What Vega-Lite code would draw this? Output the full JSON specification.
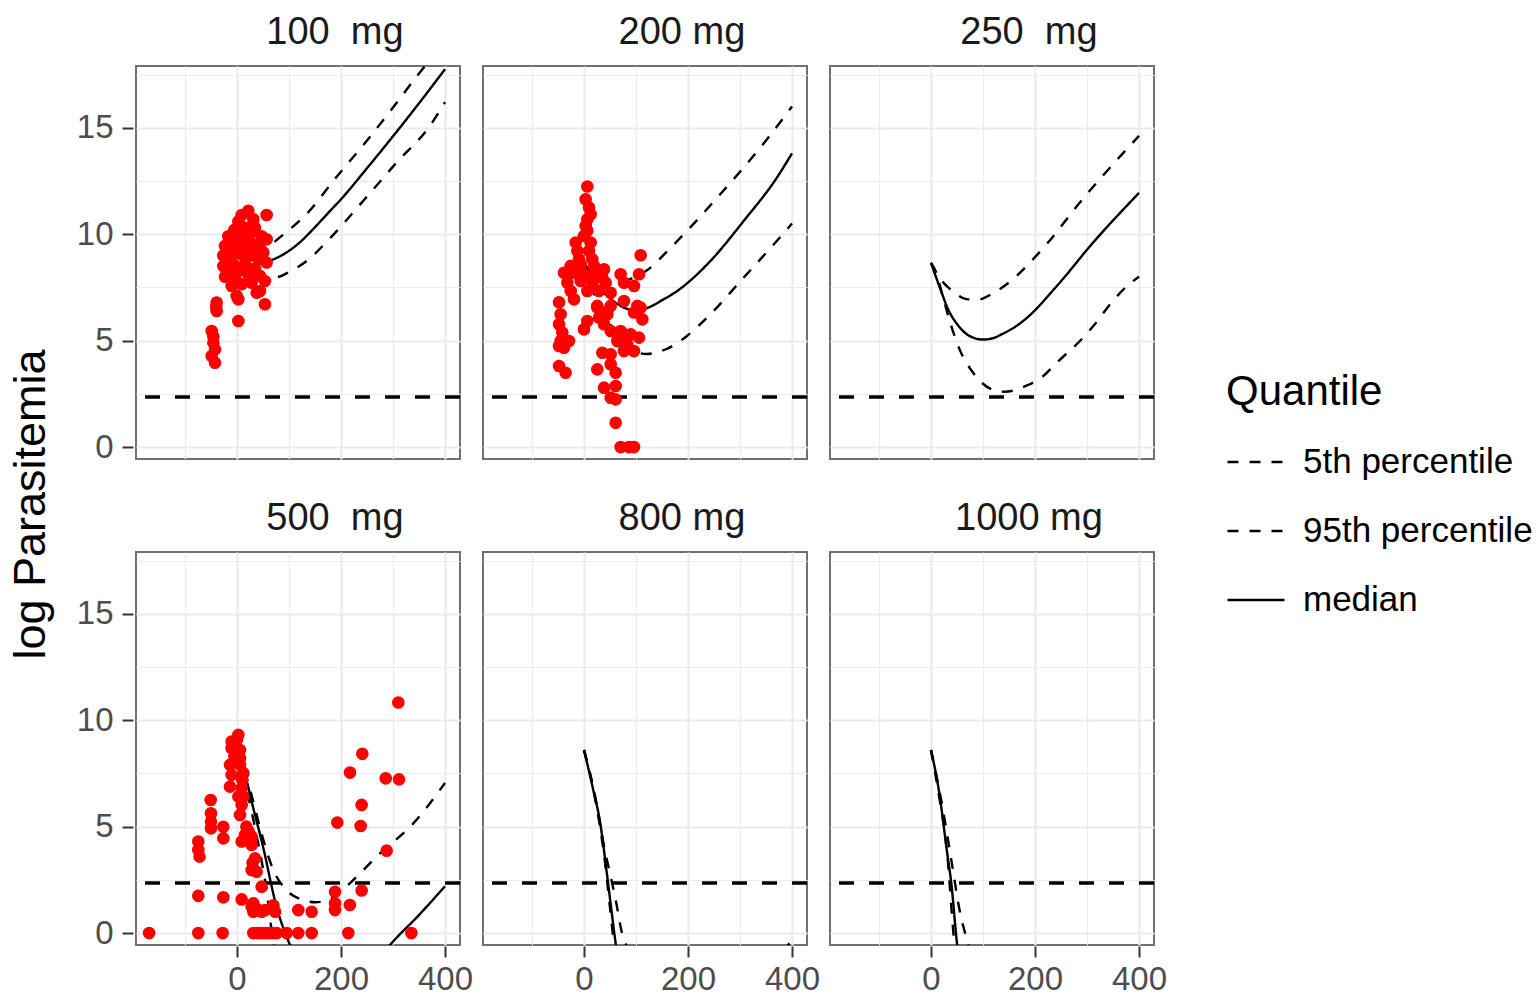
{
  "$schema": "https://vega.github.io/schema/vega-lite/v6.json",
  "background": "white",
  "padding": {"left": 9, "top": 13, "right": 5, "bottom": 5},
  "config": {
    "font": "Liberation Sans",
    "view": {"stroke": "#707070", "strokeWidth": 2},
    "axis": {
      "domain": false,
      "gridColor": "#EBEBEB",
      "tickColor": "#333333",
      "tickSize": 11,
      "tickWidth": 2,
      "labelFontSize": 33,
      "labelColor": "#4D4D4D",
      "labelPadding": 6,
      "labelFlush": false,
      "labelOverlap": false,
      "labelBound": false
    },
    "axisY": {"labelPadding": 9},
    "legend": {
      "titleFontSize": 42,
      "titleFontWeight": "normal",
      "titleColor": "#000000",
      "titlePadding": 18,
      "labelFontSize": 35,
      "labelColor": "#000000",
      "labelOffset": 17,
      "labelLimit": 0,
      "symbolType": "stroke",
      "symbolSize": 3249,
      "symbolStrokeWidth": 2.5,
      "symbolStrokeColor": "#000000",
      "rowPadding": 21
    }
  },
  "title": {"text": "log Parasitemia", "orient": "left", "anchor": "middle", "fontSize": 45, "fontWeight": "normal", "color": "#000000", "offset": 22},
  "data": {"values": [
    {"dose":100,"kind":"lloq","value":2.35},
    {"dose":200,"kind":"lloq","value":2.35},
    {"dose":250,"kind":"lloq","value":2.35},
    {"dose":500,"kind":"lloq","value":2.35},
    {"dose":800,"kind":"lloq","value":2.35},
    {"dose":1000,"kind":"lloq","value":2.35},

    {"dose":100,"kind":"obs","time":21.8,"value":11.1},
    {"dose":100,"kind":"obs","time":9,"value":10.9},
    {"dose":100,"kind":"obs","time":2.6,"value":10.6},
    {"dose":100,"kind":"obs","time":31.4,"value":10.7},
    {"dose":100,"kind":"obs","time":57,"value":10.9},
    {"dose":100,"kind":"obs","time":15.4,"value":10.3},
    {"dose":100,"kind":"obs","time":34.6,"value":10.3},
    {"dose":100,"kind":"obs","time":-16.7,"value":9.9},
    {"dose":100,"kind":"obs","time":2.6,"value":9.9},
    {"dose":100,"kind":"obs","time":25,"value":10.0},
    {"dose":100,"kind":"obs","time":47.4,"value":9.9},
    {"dose":100,"kind":"obs","time":-23.1,"value":9.45},
    {"dose":100,"kind":"obs","time":-3.8,"value":9.45},
    {"dose":100,"kind":"obs","time":15.4,"value":9.45},
    {"dose":100,"kind":"obs","time":37.8,"value":9.5},
    {"dose":100,"kind":"obs","time":57,"value":9.76},
    {"dose":100,"kind":"obs","time":-26.3,"value":9.0},
    {"dose":100,"kind":"obs","time":-10.3,"value":9.0},
    {"dose":100,"kind":"obs","time":9,"value":9.06},
    {"dose":100,"kind":"obs","time":28.2,"value":9.0},
    {"dose":100,"kind":"obs","time":50.6,"value":9.14},
    {"dose":100,"kind":"obs","time":-26.3,"value":8.5},
    {"dose":100,"kind":"obs","time":-7.1,"value":8.6},
    {"dose":100,"kind":"obs","time":15.4,"value":8.6},
    {"dose":100,"kind":"obs","time":34.6,"value":8.4},
    {"dose":100,"kind":"obs","time":57,"value":8.67},
    {"dose":100,"kind":"obs","time":-23.1,"value":8.0},
    {"dose":100,"kind":"obs","time":-3.8,"value":7.96},
    {"dose":100,"kind":"obs","time":21.8,"value":8.1},
    {"dose":100,"kind":"obs","time":44.2,"value":8.04},
    {"dose":100,"kind":"obs","time":53.8,"value":7.8},
    {"dose":100,"kind":"obs","time":-10.3,"value":7.57},
    {"dose":100,"kind":"obs","time":9,"value":7.65},
    {"dose":100,"kind":"obs","time":28.2,"value":7.72},
    {"dose":100,"kind":"obs","time":-0.6,"value":7.1},
    {"dose":100,"kind":"obs","time":37.8,"value":7.25},
    {"dose":100,"kind":"obs","time":44.2,"value":7.33},
    {"dose":100,"kind":"obs","time":53.8,"value":6.71},
    {"dose":100,"kind":"obs","time":-39.1,"value":6.79},
    {"dose":100,"kind":"obs","time":-39.1,"value":6.39},
    {"dose":100,"kind":"obs","time":2.6,"value":5.92},
    {"dose":100,"kind":"obs","time":-48.7,"value":5.45},
    {"dose":100,"kind":"obs","time":-45.5,"value":4.9},
    {"dose":100,"kind":"obs","time":-42.3,"value":4.59},
    {"dose":100,"kind":"obs","time":-48.7,"value":4.28},
    {"dose":100,"kind":"obs","time":-42.3,"value":3.96},
    {"dose":100,"kind":"obs","time":2.6,"value":6.94},
    {"dose":100,"kind":"obs","time":-45.5,"value":5.2},
    {"dose":100,"kind":"obs","time":-40,"value":6.6},
    {"dose":100,"kind":"obs","time":40,"value":8.9},
    {"dose":100,"kind":"obs","time":20,"value":9.8},
    {"dose":100,"kind":"obs","time":5,"value":8.3},
    {"dose":100,"kind":"obs","time":-15,"value":8.2},
    {"dose":100,"kind":"obs","time":30,"value":9.4},
    {"dose":100,"kind":"obs","time":-20,"value":8.8},
    {"dose":100,"kind":"obs","time":45,"value":9.3},
    {"dose":100,"kind":"obs","time":12,"value":10.1},
    {"dose":100,"kind":"obs","time":-5,"value":10.2},

    {"dose":200,"kind":"obs","time":6.4,"value":12.24},
    {"dose":200,"kind":"obs","time":3.2,"value":11.64},
    {"dose":200,"kind":"obs","time":9.6,"value":11.25},
    {"dose":200,"kind":"obs","time":12.8,"value":10.94},
    {"dose":200,"kind":"obs","time":6.4,"value":10.7},
    {"dose":200,"kind":"obs","time":3.2,"value":10.39},
    {"dose":200,"kind":"obs","time":6.4,"value":10.16},
    {"dose":200,"kind":"obs","time":0,"value":9.92},
    {"dose":200,"kind":"obs","time":-16,"value":9.61},
    {"dose":200,"kind":"obs","time":12.8,"value":9.61},
    {"dose":200,"kind":"obs","time":-12.8,"value":9.21},
    {"dose":200,"kind":"obs","time":9.6,"value":9.21},
    {"dose":200,"kind":"obs","time":-9.6,"value":8.82},
    {"dose":200,"kind":"obs","time":16,"value":8.82},
    {"dose":200,"kind":"obs","time":-25.6,"value":8.51},
    {"dose":200,"kind":"obs","time":-6.4,"value":8.59},
    {"dose":200,"kind":"obs","time":19.2,"value":8.51},
    {"dose":200,"kind":"obs","time":38.5,"value":8.35},
    {"dose":200,"kind":"obs","time":-38.5,"value":8.19},
    {"dose":200,"kind":"obs","time":-19.2,"value":8.19},
    {"dose":200,"kind":"obs","time":0,"value":8.12},
    {"dose":200,"kind":"obs","time":19.2,"value":8.04},
    {"dose":200,"kind":"obs","time":35.3,"value":7.96},
    {"dose":200,"kind":"obs","time":109,"value":9.01},
    {"dose":200,"kind":"obs","time":70.5,"value":8.12},
    {"dose":200,"kind":"obs","time":105.8,"value":8.12},
    {"dose":200,"kind":"obs","time":-32,"value":7.72},
    {"dose":200,"kind":"obs","time":-6.4,"value":7.8},
    {"dose":200,"kind":"obs","time":16,"value":7.72},
    {"dose":200,"kind":"obs","time":41.7,"value":7.72},
    {"dose":200,"kind":"obs","time":76.9,"value":7.72},
    {"dose":200,"kind":"obs","time":96.2,"value":7.57},
    {"dose":200,"kind":"obs","time":-25.6,"value":7.33},
    {"dose":200,"kind":"obs","time":6.4,"value":7.33},
    {"dose":200,"kind":"obs","time":28.8,"value":7.33},
    {"dose":200,"kind":"obs","time":51.3,"value":7.25},
    {"dose":200,"kind":"obs","time":-48,"value":6.8},
    {"dose":200,"kind":"obs","time":-19.2,"value":6.94},
    {"dose":200,"kind":"obs","time":25.6,"value":6.63},
    {"dose":200,"kind":"obs","time":51.3,"value":6.63},
    {"dose":200,"kind":"obs","time":76.9,"value":6.86},
    {"dose":200,"kind":"obs","time":102.6,"value":6.63},
    {"dose":200,"kind":"obs","time":38.5,"value":6.32},
    {"dose":200,"kind":"obs","time":-44.9,"value":6.24},
    {"dose":200,"kind":"obs","time":-48,"value":5.77},
    {"dose":200,"kind":"obs","time":-41.7,"value":5.38},
    {"dose":200,"kind":"obs","time":-44.9,"value":4.98},
    {"dose":200,"kind":"obs","time":-28.8,"value":4.98},
    {"dose":200,"kind":"obs","time":-48,"value":4.75},
    {"dose":200,"kind":"obs","time":-38.5,"value":4.67},
    {"dose":200,"kind":"obs","time":6.4,"value":5.92},
    {"dose":200,"kind":"obs","time":0,"value":5.53},
    {"dose":200,"kind":"obs","time":25.6,"value":6.55},
    {"dose":200,"kind":"obs","time":28.8,"value":6.08},
    {"dose":200,"kind":"obs","time":44.9,"value":6.24},
    {"dose":200,"kind":"obs","time":38.5,"value":5.77},
    {"dose":200,"kind":"obs","time":51.3,"value":5.45},
    {"dose":200,"kind":"obs","time":70.5,"value":5.45},
    {"dose":200,"kind":"obs","time":96.2,"value":6.32},
    {"dose":200,"kind":"obs","time":109,"value":6.55},
    {"dose":200,"kind":"obs","time":112.2,"value":6.0},
    {"dose":200,"kind":"obs","time":76.9,"value":5.3},
    {"dose":200,"kind":"obs","time":89.7,"value":5.3},
    {"dose":200,"kind":"obs","time":105.8,"value":5.14},
    {"dose":200,"kind":"obs","time":64.1,"value":4.98},
    {"dose":200,"kind":"obs","time":83.3,"value":4.83},
    {"dose":200,"kind":"obs","time":35.3,"value":4.43},
    {"dose":200,"kind":"obs","time":51.3,"value":4.36},
    {"dose":200,"kind":"obs","time":76.9,"value":4.51},
    {"dose":200,"kind":"obs","time":96.2,"value":4.51},
    {"dose":200,"kind":"obs","time":51.3,"value":3.89},
    {"dose":200,"kind":"obs","time":60.9,"value":3.49},
    {"dose":200,"kind":"obs","time":-48,"value":3.81},
    {"dose":200,"kind":"obs","time":-35.3,"value":3.49},
    {"dose":200,"kind":"obs","time":25.6,"value":3.65},
    {"dose":200,"kind":"obs","time":38.5,"value":2.79},
    {"dose":200,"kind":"obs","time":60.9,"value":2.87},
    {"dose":200,"kind":"obs","time":51.3,"value":2.32},
    {"dose":200,"kind":"obs","time":60.9,"value":2.24},
    {"dose":200,"kind":"obs","time":60.9,"value":1.14},
    {"dose":200,"kind":"obs","time":70.5,"value":0},
    {"dose":200,"kind":"obs","time":86.5,"value":0},
    {"dose":200,"kind":"obs","time":96.2,"value":0},

    {"dose":500,"kind":"obs","time":2.6,"value":9.31},
    {"dose":500,"kind":"obs","time":-10.3,"value":9.0},
    {"dose":500,"kind":"obs","time":-10.3,"value":8.68},
    {"dose":500,"kind":"obs","time":5.8,"value":8.6},
    {"dose":500,"kind":"obs","time":5.8,"value":8.21},
    {"dose":500,"kind":"obs","time":-13.5,"value":7.9},
    {"dose":500,"kind":"obs","time":5.8,"value":7.9},
    {"dose":500,"kind":"obs","time":-10.3,"value":7.43},
    {"dose":500,"kind":"obs","time":12.2,"value":7.51},
    {"dose":500,"kind":"obs","time":-13.5,"value":6.88},
    {"dose":500,"kind":"obs","time":9,"value":6.8},
    {"dose":500,"kind":"obs","time":2.6,"value":6.41},
    {"dose":500,"kind":"obs","time":9,"value":6.02},
    {"dose":500,"kind":"obs","time":5.8,"value":5.55},
    {"dose":500,"kind":"obs","time":15.4,"value":4.61},
    {"dose":500,"kind":"obs","time":28.2,"value":4.53},
    {"dose":500,"kind":"obs","time":9,"value":4.3},
    {"dose":500,"kind":"obs","time":28.2,"value":4.14},
    {"dose":500,"kind":"obs","time":34.6,"value":3.51},
    {"dose":500,"kind":"obs","time":28.2,"value":2.96},
    {"dose":500,"kind":"obs","time":37.8,"value":2.88},
    {"dose":500,"kind":"obs","time":47.4,"value":2.18},
    {"dose":500,"kind":"obs","time":0,"value":9.1},
    {"dose":500,"kind":"obs","time":-5,"value":8.3},
    {"dose":500,"kind":"obs","time":10,"value":7.2},
    {"dose":500,"kind":"obs","time":12,"value":6.4},
    {"dose":500,"kind":"obs","time":18,"value":5.0},
    {"dose":500,"kind":"obs","time":22,"value":4.8},
    {"dose":500,"kind":"obs","time":30,"value":3.3},
    {"dose":500,"kind":"obs","time":-50.6,"value":6.25},
    {"dose":500,"kind":"obs","time":-50,"value":5.63},
    {"dose":500,"kind":"obs","time":-50,"value":5.23},
    {"dose":500,"kind":"obs","time":-50,"value":4.92},
    {"dose":500,"kind":"obs","time":-26.3,"value":4.99},
    {"dose":500,"kind":"obs","time":-26.3,"value":4.45},
    {"dose":500,"kind":"obs","time":-74.4,"value":4.3},
    {"dose":500,"kind":"obs","time":-74.4,"value":3.9},
    {"dose":500,"kind":"obs","time":-72,"value":3.59},
    {"dose":500,"kind":"obs","time":-74.4,"value":1.75},
    {"dose":500,"kind":"obs","time":-26.3,"value":1.68},
    {"dose":500,"kind":"obs","time":9,"value":1.58},
    {"dose":500,"kind":"obs","time":28.2,"value":1.24},
    {"dose":500,"kind":"obs","time":31.4,"value":1.0},
    {"dose":500,"kind":"obs","time":47.4,"value":1.0},
    {"dose":500,"kind":"obs","time":70,"value":1.3},
    {"dose":500,"kind":"obs","time":73.3,"value":1.0},
    {"dose":500,"kind":"obs","time":53.8,"value":1.08},
    {"dose":500,"kind":"obs","time":117.9,"value":1.08},
    {"dose":500,"kind":"obs","time":143.6,"value":1.0},
    {"dose":500,"kind":"obs","time":188.5,"value":1.94},
    {"dose":500,"kind":"obs","time":188.5,"value":1.4},
    {"dose":500,"kind":"obs","time":188.5,"value":1.08},
    {"dose":500,"kind":"obs","time":217,"value":1.32},
    {"dose":500,"kind":"obs","time":239.7,"value":2.0},
    {"dose":500,"kind":"obs","time":31.4,"value":1.4},
    {"dose":500,"kind":"obs","time":40,"value":1.1},
    {"dose":500,"kind":"obs","time":-169,"value":0},
    {"dose":500,"kind":"obs","time":-74.4,"value":0},
    {"dose":500,"kind":"obs","time":-27.6,"value":0},
    {"dose":500,"kind":"obs","time":31.4,"value":0},
    {"dose":500,"kind":"obs","time":40,"value":0},
    {"dose":500,"kind":"obs","time":47.4,"value":0},
    {"dose":500,"kind":"obs","time":56,"value":0},
    {"dose":500,"kind":"obs","time":63.5,"value":0},
    {"dose":500,"kind":"obs","time":70,"value":0},
    {"dose":500,"kind":"obs","time":76.3,"value":0},
    {"dose":500,"kind":"obs","time":95.5,"value":0},
    {"dose":500,"kind":"obs","time":117.9,"value":0},
    {"dose":500,"kind":"obs","time":143.6,"value":0},
    {"dose":500,"kind":"obs","time":214,"value":0},
    {"dose":500,"kind":"obs","time":335.3,"value":0},
    {"dose":500,"kind":"obs","time":310.2,"value":10.83},
    {"dose":500,"kind":"obs","time":241,"value":8.42},
    {"dose":500,"kind":"obs","time":217.3,"value":7.54},
    {"dose":500,"kind":"obs","time":286,"value":7.27},
    {"dose":500,"kind":"obs","time":311.5,"value":7.22},
    {"dose":500,"kind":"obs","time":239.7,"value":6.02},
    {"dose":500,"kind":"obs","time":192.9,"value":5.19},
    {"dose":500,"kind":"obs","time":237.8,"value":5.03},
    {"dose":500,"kind":"obs","time":287.8,"value":3.87},

    {"dose":100,"kind":"pred","quantile":"median","time":0,"value":8.6},
    {"dose":100,"kind":"pred","quantile":"median","time":20,"value":8.55},
    {"dose":100,"kind":"pred","quantile":"median","time":40,"value":8.6},
    {"dose":100,"kind":"pred","quantile":"median","time":60,"value":8.73},
    {"dose":100,"kind":"pred","quantile":"median","time":80,"value":8.93},
    {"dose":100,"kind":"pred","quantile":"median","time":100,"value":9.22},
    {"dose":100,"kind":"pred","quantile":"median","time":120,"value":9.6},
    {"dose":100,"kind":"pred","quantile":"median","time":150,"value":10.33},
    {"dose":100,"kind":"pred","quantile":"median","time":180,"value":11.12},
    {"dose":100,"kind":"pred","quantile":"median","time":200,"value":11.64},
    {"dose":100,"kind":"pred","quantile":"median","time":250,"value":13.1},
    {"dose":100,"kind":"pred","quantile":"median","time":300,"value":14.6},
    {"dose":100,"kind":"pred","quantile":"median","time":350,"value":16.15},
    {"dose":100,"kind":"pred","quantile":"median","time":400,"value":17.75},
    {"dose":100,"kind":"pred","quantile":"95th percentile","time":0,"value":8.6},
    {"dose":100,"kind":"pred","quantile":"95th percentile","time":20,"value":8.75},
    {"dose":100,"kind":"pred","quantile":"95th percentile","time":40,"value":9.05},
    {"dose":100,"kind":"pred","quantile":"95th percentile","time":60,"value":9.4},
    {"dose":100,"kind":"pred","quantile":"95th percentile","time":80,"value":9.8},
    {"dose":100,"kind":"pred","quantile":"95th percentile","time":100,"value":10.2},
    {"dose":100,"kind":"pred","quantile":"95th percentile","time":130,"value":10.85},
    {"dose":100,"kind":"pred","quantile":"95th percentile","time":190,"value":12.65},
    {"dose":100,"kind":"pred","quantile":"95th percentile","time":250,"value":14.4},
    {"dose":100,"kind":"pred","quantile":"95th percentile","time":300,"value":15.95},
    {"dose":100,"kind":"pred","quantile":"95th percentile","time":350,"value":17.55},
    {"dose":100,"kind":"pred","quantile":"95th percentile","time":400,"value":19.0},
    {"dose":100,"kind":"pred","quantile":"5th percentile","time":0,"value":8.6},
    {"dose":100,"kind":"pred","quantile":"5th percentile","time":20,"value":8.3},
    {"dose":100,"kind":"pred","quantile":"5th percentile","time":40,"value":8.1},
    {"dose":100,"kind":"pred","quantile":"5th percentile","time":60,"value":7.96},
    {"dose":100,"kind":"pred","quantile":"5th percentile","time":80,"value":8.0},
    {"dose":100,"kind":"pred","quantile":"5th percentile","time":100,"value":8.22},
    {"dose":100,"kind":"pred","quantile":"5th percentile","time":134,"value":8.74},
    {"dose":100,"kind":"pred","quantile":"5th percentile","time":180,"value":9.84},
    {"dose":100,"kind":"pred","quantile":"5th percentile","time":243,"value":11.57},
    {"dose":100,"kind":"pred","quantile":"5th percentile","time":307,"value":13.37},
    {"dose":100,"kind":"pred","quantile":"5th percentile","time":371,"value":15.09},
    {"dose":100,"kind":"pred","quantile":"5th percentile","time":400,"value":16.2},

    {"dose":200,"kind":"pred","quantile":"median","time":0,"value":8.6},
    {"dose":200,"kind":"pred","quantile":"median","time":20,"value":7.8},
    {"dose":200,"kind":"pred","quantile":"median","time":40,"value":7.2},
    {"dose":200,"kind":"pred","quantile":"median","time":60,"value":6.8},
    {"dose":200,"kind":"pred","quantile":"median","time":80,"value":6.52},
    {"dose":200,"kind":"pred","quantile":"median","time":100,"value":6.42},
    {"dose":200,"kind":"pred","quantile":"median","time":120,"value":6.52},
    {"dose":200,"kind":"pred","quantile":"median","time":153,"value":6.94},
    {"dose":200,"kind":"pred","quantile":"median","time":179,"value":7.33},
    {"dose":200,"kind":"pred","quantile":"median","time":243,"value":8.74},
    {"dose":200,"kind":"pred","quantile":"median","time":307,"value":10.62},
    {"dose":200,"kind":"pred","quantile":"median","time":371,"value":12.66},
    {"dose":200,"kind":"pred","quantile":"median","time":400,"value":13.8},
    {"dose":200,"kind":"pred","quantile":"95th percentile","time":0,"value":8.6},
    {"dose":200,"kind":"pred","quantile":"95th percentile","time":20,"value":8.1},
    {"dose":200,"kind":"pred","quantile":"95th percentile","time":47,"value":7.8},
    {"dose":200,"kind":"pred","quantile":"95th percentile","time":70,"value":7.76},
    {"dose":200,"kind":"pred","quantile":"95th percentile","time":95,"value":7.96},
    {"dose":200,"kind":"pred","quantile":"95th percentile","time":128,"value":8.43},
    {"dose":200,"kind":"pred","quantile":"95th percentile","time":160,"value":9.2},
    {"dose":200,"kind":"pred","quantile":"95th percentile","time":204,"value":10.31},
    {"dose":200,"kind":"pred","quantile":"95th percentile","time":250,"value":11.55},
    {"dose":200,"kind":"pred","quantile":"95th percentile","time":307,"value":13.13},
    {"dose":200,"kind":"pred","quantile":"95th percentile","time":350,"value":14.4},
    {"dose":200,"kind":"pred","quantile":"95th percentile","time":400,"value":16.0},
    {"dose":200,"kind":"pred","quantile":"5th percentile","time":0,"value":8.6},
    {"dose":200,"kind":"pred","quantile":"5th percentile","time":25,"value":6.8},
    {"dose":200,"kind":"pred","quantile":"5th percentile","time":50,"value":5.77},
    {"dose":200,"kind":"pred","quantile":"5th percentile","time":70,"value":4.98},
    {"dose":200,"kind":"pred","quantile":"5th percentile","time":95,"value":4.52},
    {"dose":200,"kind":"pred","quantile":"5th percentile","time":121,"value":4.37},
    {"dose":200,"kind":"pred","quantile":"5th percentile","time":140,"value":4.45},
    {"dose":200,"kind":"pred","quantile":"5th percentile","time":160,"value":4.62},
    {"dose":200,"kind":"pred","quantile":"5th percentile","time":198,"value":5.22},
    {"dose":200,"kind":"pred","quantile":"5th percentile","time":243,"value":6.24},
    {"dose":200,"kind":"pred","quantile":"5th percentile","time":307,"value":7.96},
    {"dose":200,"kind":"pred","quantile":"5th percentile","time":371,"value":9.69},
    {"dose":200,"kind":"pred","quantile":"5th percentile","time":400,"value":10.5},

    {"dose":250,"kind":"pred","quantile":"median","time":0,"value":8.65},
    {"dose":250,"kind":"pred","quantile":"median","time":17,"value":7.49},
    {"dose":250,"kind":"pred","quantile":"median","time":33,"value":6.47},
    {"dose":250,"kind":"pred","quantile":"median","time":53,"value":5.69},
    {"dose":250,"kind":"pred","quantile":"median","time":72,"value":5.25},
    {"dose":250,"kind":"pred","quantile":"median","time":100,"value":5.05},
    {"dose":250,"kind":"pred","quantile":"median","time":120,"value":5.12},
    {"dose":250,"kind":"pred","quantile":"median","time":136,"value":5.3},
    {"dose":250,"kind":"pred","quantile":"median","time":160,"value":5.62},
    {"dose":250,"kind":"pred","quantile":"median","time":181,"value":6.0},
    {"dose":250,"kind":"pred","quantile":"median","time":245,"value":7.65},
    {"dose":250,"kind":"pred","quantile":"median","time":309,"value":9.53},
    {"dose":250,"kind":"pred","quantile":"median","time":400,"value":11.94},
    {"dose":250,"kind":"pred","quantile":"95th percentile","time":0,"value":8.65},
    {"dose":250,"kind":"pred","quantile":"95th percentile","time":15,"value":8.0},
    {"dose":250,"kind":"pred","quantile":"95th percentile","time":30,"value":7.57},
    {"dose":250,"kind":"pred","quantile":"95th percentile","time":45,"value":7.26},
    {"dose":250,"kind":"pred","quantile":"95th percentile","time":68,"value":6.95},
    {"dose":250,"kind":"pred","quantile":"95th percentile","time":90,"value":6.92},
    {"dose":250,"kind":"pred","quantile":"95th percentile","time":116,"value":7.18},
    {"dose":250,"kind":"pred","quantile":"95th percentile","time":161,"value":7.96},
    {"dose":250,"kind":"pred","quantile":"95th percentile","time":199,"value":8.9},
    {"dose":250,"kind":"pred","quantile":"95th percentile","time":228,"value":9.69},
    {"dose":250,"kind":"pred","quantile":"95th percentile","time":281,"value":11.33},
    {"dose":250,"kind":"pred","quantile":"95th percentile","time":400,"value":14.62},
    {"dose":250,"kind":"pred","quantile":"5th percentile","time":0,"value":8.65},
    {"dose":250,"kind":"pred","quantile":"5th percentile","time":10,"value":8.2},
    {"dose":250,"kind":"pred","quantile":"5th percentile","time":20,"value":7.33},
    {"dose":250,"kind":"pred","quantile":"5th percentile","time":36,"value":5.92},
    {"dose":250,"kind":"pred","quantile":"5th percentile","time":55,"value":4.59},
    {"dose":250,"kind":"pred","quantile":"5th percentile","time":81,"value":3.49},
    {"dose":250,"kind":"pred","quantile":"5th percentile","time":116,"value":2.72},
    {"dose":250,"kind":"pred","quantile":"5th percentile","time":140,"value":2.6},
    {"dose":250,"kind":"pred","quantile":"5th percentile","time":160,"value":2.66},
    {"dose":250,"kind":"pred","quantile":"5th percentile","time":185,"value":2.9},
    {"dose":250,"kind":"pred","quantile":"5th percentile","time":212,"value":3.26},
    {"dose":250,"kind":"pred","quantile":"5th percentile","time":245,"value":4.04},
    {"dose":250,"kind":"pred","quantile":"5th percentile","time":283,"value":4.9},
    {"dose":250,"kind":"pred","quantile":"5th percentile","time":315,"value":5.77},
    {"dose":250,"kind":"pred","quantile":"5th percentile","time":347,"value":6.79},
    {"dose":250,"kind":"pred","quantile":"5th percentile","time":385,"value":7.73},
    {"dose":250,"kind":"pred","quantile":"5th percentile","time":400,"value":8.0},

    {"dose":500,"kind":"pred","quantile":"median","time":0,"value":8.6},
    {"dose":500,"kind":"pred","quantile":"median","time":15,"value":7.5},
    {"dose":500,"kind":"pred","quantile":"median","time":30,"value":6.0},
    {"dose":500,"kind":"pred","quantile":"median","time":50,"value":4.06},
    {"dose":500,"kind":"pred","quantile":"median","time":76,"value":1.24},
    {"dose":500,"kind":"pred","quantile":"median","time":102,"value":-0.56},
    {"dose":500,"kind":"pred","quantile":"median","time":130,"value":-1.8},
    {"dose":500,"kind":"pred","quantile":"median","time":170,"value":-2.6},
    {"dose":500,"kind":"pred","quantile":"median","time":210,"value":-2.6},
    {"dose":500,"kind":"pred","quantile":"median","time":250,"value":-1.9},
    {"dose":500,"kind":"pred","quantile":"median","time":294,"value":-0.56},
    {"dose":500,"kind":"pred","quantile":"median","time":350,"value":0.85},
    {"dose":500,"kind":"pred","quantile":"median","time":400,"value":2.2},
    {"dose":500,"kind":"pred","quantile":"95th percentile","time":0,"value":8.6},
    {"dose":500,"kind":"pred","quantile":"95th percentile","time":15,"value":7.6},
    {"dose":500,"kind":"pred","quantile":"95th percentile","time":30,"value":6.3},
    {"dose":500,"kind":"pred","quantile":"95th percentile","time":47,"value":4.69},
    {"dose":500,"kind":"pred","quantile":"95th percentile","time":70,"value":2.96},
    {"dose":500,"kind":"pred","quantile":"95th percentile","time":95,"value":2.02},
    {"dose":500,"kind":"pred","quantile":"95th percentile","time":128,"value":1.55},
    {"dose":500,"kind":"pred","quantile":"95th percentile","time":150,"value":1.45},
    {"dose":500,"kind":"pred","quantile":"95th percentile","time":170,"value":1.5},
    {"dose":500,"kind":"pred","quantile":"95th percentile","time":195,"value":1.85},
    {"dose":500,"kind":"pred","quantile":"95th percentile","time":220,"value":2.41},
    {"dose":500,"kind":"pred","quantile":"95th percentile","time":275,"value":3.74},
    {"dose":500,"kind":"pred","quantile":"95th percentile","time":339,"value":5.15},
    {"dose":500,"kind":"pred","quantile":"95th percentile","time":400,"value":7.05},
    {"dose":500,"kind":"pred","quantile":"5th percentile","time":0,"value":8.6},
    {"dose":500,"kind":"pred","quantile":"5th percentile","time":20,"value":6.6},
    {"dose":500,"kind":"pred","quantile":"5th percentile","time":40,"value":4.3},
    {"dose":500,"kind":"pred","quantile":"5th percentile","time":55,"value":2.3},
    {"dose":500,"kind":"pred","quantile":"5th percentile","time":70,"value":-0.5},
    {"dose":500,"kind":"pred","quantile":"5th percentile","time":100,"value":-3.5},
    {"dose":500,"kind":"pred","quantile":"5th percentile","time":150,"value":-6},
    {"dose":500,"kind":"pred","quantile":"5th percentile","time":250,"value":-6},
    {"dose":500,"kind":"pred","quantile":"5th percentile","time":350,"value":-4},
    {"dose":500,"kind":"pred","quantile":"5th percentile","time":400,"value":-2.7},

    {"dose":800,"kind":"pred","quantile":"median","time":0,"value":8.6},
    {"dose":800,"kind":"pred","quantile":"median","time":18,"value":6.7},
    {"dose":800,"kind":"pred","quantile":"median","time":31,"value":5.2},
    {"dose":800,"kind":"pred","quantile":"median","time":44,"value":2.8},
    {"dose":800,"kind":"pred","quantile":"median","time":61,"value":-0.5},
    {"dose":800,"kind":"pred","quantile":"median","time":80,"value":-3.5},
    {"dose":800,"kind":"pred","quantile":"median","time":150,"value":-9},
    {"dose":800,"kind":"pred","quantile":"median","time":250,"value":-9},
    {"dose":800,"kind":"pred","quantile":"median","time":400,"value":-4.5},
    {"dose":800,"kind":"pred","quantile":"95th percentile","time":0,"value":8.6},
    {"dose":800,"kind":"pred","quantile":"95th percentile","time":20,"value":6.6},
    {"dose":800,"kind":"pred","quantile":"95th percentile","time":40,"value":3.9},
    {"dose":800,"kind":"pred","quantile":"95th percentile","time":50,"value":2.8},
    {"dose":800,"kind":"pred","quantile":"95th percentile","time":61,"value":1.55},
    {"dose":800,"kind":"pred","quantile":"95th percentile","time":73,"value":0.0},
    {"dose":800,"kind":"pred","quantile":"95th percentile","time":85,"value":-0.8},
    {"dose":800,"kind":"pred","quantile":"95th percentile","time":120,"value":-4},
    {"dose":800,"kind":"pred","quantile":"95th percentile","time":200,"value":-6},
    {"dose":800,"kind":"pred","quantile":"95th percentile","time":300,"value":-3.0},
    {"dose":800,"kind":"pred","quantile":"95th percentile","time":350,"value":-1.7},
    {"dose":800,"kind":"pred","quantile":"95th percentile","time":400,"value":-0.35},
    {"dose":800,"kind":"pred","quantile":"5th percentile","time":0,"value":8.6},
    {"dose":800,"kind":"pred","quantile":"5th percentile","time":20,"value":6.5},
    {"dose":800,"kind":"pred","quantile":"5th percentile","time":40,"value":3.4},
    {"dose":800,"kind":"pred","quantile":"5th percentile","time":50,"value":1.2},
    {"dose":800,"kind":"pred","quantile":"5th percentile","time":58,"value":-0.6},
    {"dose":800,"kind":"pred","quantile":"5th percentile","time":80,"value":-4},
    {"dose":800,"kind":"pred","quantile":"5th percentile","time":200,"value":-12},
    {"dose":800,"kind":"pred","quantile":"5th percentile","time":400,"value":-9},

    {"dose":1000,"kind":"pred","quantile":"median","time":0,"value":8.6},
    {"dose":1000,"kind":"pred","quantile":"median","time":15,"value":6.72},
    {"dose":1000,"kind":"pred","quantile":"median","time":32,"value":3.6},
    {"dose":1000,"kind":"pred","quantile":"median","time":39,"value":2.35},
    {"dose":1000,"kind":"pred","quantile":"median","time":50,"value":-0.5},
    {"dose":1000,"kind":"pred","quantile":"median","time":70,"value":-3.5},
    {"dose":1000,"kind":"pred","quantile":"median","time":200,"value":-12},
    {"dose":1000,"kind":"pred","quantile":"median","time":400,"value":-8},
    {"dose":1000,"kind":"pred","quantile":"95th percentile","time":0,"value":8.6},
    {"dose":1000,"kind":"pred","quantile":"95th percentile","time":20,"value":6.2},
    {"dose":1000,"kind":"pred","quantile":"95th percentile","time":40,"value":3.3},
    {"dose":1000,"kind":"pred","quantile":"95th percentile","time":54,"value":1.2},
    {"dose":1000,"kind":"pred","quantile":"95th percentile","time":71,"value":-0.5},
    {"dose":1000,"kind":"pred","quantile":"95th percentile","time":100,"value":-3},
    {"dose":1000,"kind":"pred","quantile":"95th percentile","time":250,"value":-8},
    {"dose":1000,"kind":"pred","quantile":"95th percentile","time":400,"value":-5},
    {"dose":1000,"kind":"pred","quantile":"5th percentile","time":0,"value":8.6},
    {"dose":1000,"kind":"pred","quantile":"5th percentile","time":15,"value":6.5},
    {"dose":1000,"kind":"pred","quantile":"5th percentile","time":30,"value":4.0},
    {"dose":1000,"kind":"pred","quantile":"5th percentile","time":45,"value":-0.5},
    {"dose":1000,"kind":"pred","quantile":"5th percentile","time":60,"value":-3},
    {"dose":1000,"kind":"pred","quantile":"5th percentile","time":200,"value":-14},
    {"dose":1000,"kind":"pred","quantile":"5th percentile","time":400,"value":-10}
  ]},
  "facet": {
    "field": "dose",
    "type": "ordinal",
    "header": {
      "title": null,
      "labelFontSize": 38,
      "labelColor": "#1a1a1a",
      "labelPadding": 14,
      "labelExpr": "'\u200b\u00a0\u00a0\u00a0\u00a0\u00a0\u00a0\u00a0' + datum.value + (datum.value == 200 || datum.value >= 800 ? '\u00a0' : '\u00a0\u00a0') + 'mg'"
    }
  },
  "columns": 3,
  "spacing": {"row": 39, "column": 17},
  "spec": {
    "width": 324,
    "height": 393,
    "layer": [
      {
        "transform": [{"filter": "datum.kind === 'lloq'"}],
        "mark": {"type": "rule", "color": "#000000", "strokeWidth": 3.5, "strokeDash": [15, 15]},
        "encoding": {
          "y": {"field": "value", "type": "quantitative",
                "scale": {"domain": [-0.56, 17.9], "nice": false, "zero": false},
                "axis": {"title": null, "values": [0, 2.5, 5, 7.5, 10, 12.5, 15, 17.5],
                         "labelExpr": "datum.value % 5 === 0 ? datum.label : ''",
                         "tickOpacity": {"condition": {"test": "datum.value % 5 !== 0", "value": 0}, "value": 1},
                         "gridWidth": {"condition": {"test": "datum.value % 5 !== 0", "value": 1.1}, "value": 2.2}}}
        }
      },
      {
        "transform": [{"filter": "datum.kind === 'pred'"}],
        "mark": {"type": "line", "color": "#000000", "strokeWidth": 2.4, "interpolate": "monotone", "clip": true},
        "encoding": {
          "x": {"field": "time", "type": "quantitative",
                "scale": {"domain": [-194.2, 428.8], "nice": false, "zero": false},
                "axis": {"title": null, "values": [-100, 0, 100, 200, 300, 400],
                         "labelExpr": "datum.value % 200 === 0 ? datum.label : ''",
                         "tickOpacity": {"condition": {"test": "datum.value % 200 !== 0", "value": 0}, "value": 1},
                         "gridWidth": {"condition": {"test": "datum.value % 200 !== 0", "value": 1.1}, "value": 2.2}}},
          "y": {"field": "value", "type": "quantitative",
                "scale": {"domain": [-0.56, 17.9], "nice": false, "zero": false},
                "axis": {"title": null, "values": [0, 2.5, 5, 7.5, 10, 12.5, 15, 17.5],
                         "labelExpr": "datum.value % 5 === 0 ? datum.label : ''",
                         "tickOpacity": {"condition": {"test": "datum.value % 5 !== 0", "value": 0}, "value": 1},
                         "gridWidth": {"condition": {"test": "datum.value % 5 !== 0", "value": 1.1}, "value": 2.2}}},
          "strokeDash": {"field": "quantile", "type": "nominal",
                         "scale": {"domain": ["5th percentile", "95th percentile", "median"], "range": [[11, 11], [11, 11], [1, 0]]},
                         "legend": {"title": "Quantile", "orient": "none", "legendX": 1090, "legendY": 306}}
        }
      },
      {
        "transform": [{"filter": "datum.kind === 'obs'"}],
        "mark": {"type": "circle", "color": "#FF0000", "opacity": 1, "size": 160, "clip": true},
        "encoding": {
          "x": {"field": "time", "type": "quantitative",
                "scale": {"domain": [-194.2, 428.8], "nice": false, "zero": false}},
          "y": {"field": "value", "type": "quantitative",
                "scale": {"domain": [-0.56, 17.9], "nice": false, "zero": false}}
        }
      }
    ]
  }
}
